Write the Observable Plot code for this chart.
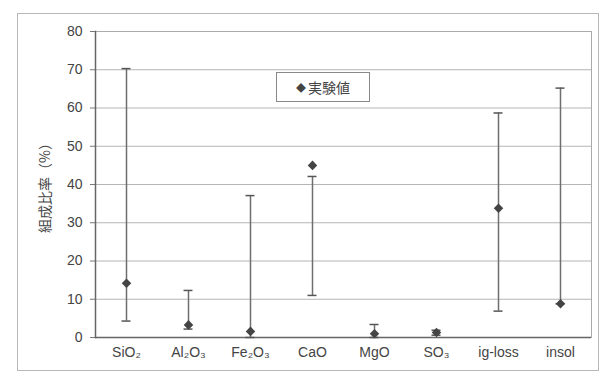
<!DOCTYPE html>
<html><head><meta charset="utf-8">
<script src="https://cdn.jsdelivr.net/npm/d3@7"></script>
<script src="https://cdn.jsdelivr.net/npm/@observablehq/plot@0.6"></script>
<style>
body{margin:0;background:#fff;}
#wrap{position:relative;width:607px;height:378px;}
#outer{position:absolute;left:17px;top:13px;width:582px;height:358px;border:1px solid #b8b8b8;box-sizing:border-box;pointer-events:none;}
#chart{position:absolute;left:0;top:0;}
#legend{position:absolute;left:276px;top:72px;width:94px;height:30px;border:1px solid #888;box-sizing:border-box;background:#fff;
 font-family:"Noto Sans CJK JP","Liberation Sans",sans-serif;font-size:14px;color:#444;display:flex;align-items:center;justify-content:center;}
#legend span.m{font-size:10px;margin-right:2px;color:#444;}
#chart svg [aria-label="y-axis label"] text{font-family:"Noto Sans CJK JP",sans-serif;font-size:14px;}
</style></head>
<body><div id="wrap"><div id="outer"></div><div id="chart"></div><div id="legend"><span class="m">◆</span>実験値</div></div>
<script>
const categories = ["SiO₂","Al₂O₃","Fe₂O₃","CaO","MgO","SO₃","ig-loss","insol"];
const measured = [14.2, 3.3, 1.6, 45.0, 1.0, 1.3, 33.8, 8.8];
const rangeMin = [4.3, 2.2, 0.0, 11.0, 0.0, 0.6, 6.9, 8.8];
const rangeMax = [70.3, 12.3, 37.1, 42.1, 3.4, 1.9, 58.7, 65.2];
const yTicks = [0,10,20,30,40,50,60,70,80];

const data = categories.map((c,i)=>({cat:c, v:measured[i], lo:rangeMin[i], hi:rangeMax[i]}));

const squareDiamond = {
  draw(context, size) {
    const s = Math.sqrt(size / 2);
    context.moveTo(0, -s); context.lineTo(s, 0); context.lineTo(0, s); context.lineTo(-s, 0); context.closePath();
  }
};

const chart = Plot.plot({
  width: 607, height: 378,
  marginLeft: 95, marginRight: 16, marginTop: 31, marginBottom: 41,
  style: {fontFamily: "'Liberation Sans', Arial, sans-serif", fontSize: "14px", color: "#444", background: "transparent"},
  x: {domain: categories, padding: 0},
  y: {domain: [0, 80]},
  marks: [
    Plot.gridY(yTicks, {stroke: "#b5b5b5", strokeOpacity: 1}),
    Plot.frame({stroke: "#aaa"}),
    Plot.frame({anchor: "left", stroke: "#666", strokeWidth: 1.5}),
    Plot.axisY(yTicks, {tickSize: 5, tickPadding: 8, stroke: "#777", label: "組成比率（%）", labelAnchor: "center", labelOffset: 55, labelArrow: "none",
      fontSize: 14, fill: "#444"}),
    Plot.axisX({tickSize: 0, tickPadding: 10, label: null, fontSize: 14, fill: "#444"}),
    Plot.ruleY([0], {stroke: "#666", strokeWidth: 1.5}),
    Plot.ruleX(data, {x: "cat", y1: "lo", y2: "hi", stroke: "#6e6e6e", strokeWidth: 1.5}),
    Plot.tickY(data, {x: "cat", y: "hi", stroke: "#555", strokeWidth: 1.5, insetLeft: 26.5, insetRight: 26.5}),
    Plot.tickY(data, {x: "cat", y: "lo", stroke: "#555", strokeWidth: 1.5, insetLeft: 26.5, insetRight: 26.5}),
    Plot.dot(data, {x: "cat", y: "v", symbol: squareDiamond, r: 3.8, fill: "#444", stroke: "none"})
  ]
});
document.getElementById("chart").appendChild(chart);
</script>
</body></html>
